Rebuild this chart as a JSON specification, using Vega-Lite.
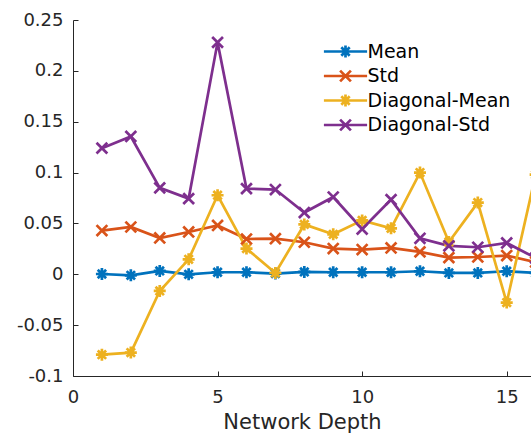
{
  "$schema": "https://vega.github.io/schema/vega-lite/v6.json",
  "autosize": "none",
  "padding": {"left": 73, "top": 20, "right": 0, "bottom": 58},
  "width": 458,
  "height": 356,
  "background": "white",
  "config": {
    "view": {"stroke": null},
    "font": "DejaVu Sans",
    "axis": {
      "grid": false,
      "labelFont": "DejaVu Sans",
      "labelFontSize": 18,
      "labelColor": "#262626",
      "labelFlush": false,
      "domainColor": "#262626",
      "domainWidth": 1,
      "tickColor": "#262626",
      "tickWidth": 1,
      "tickSize": -5,
      "titleFont": "DejaVu Sans",
      "titleFontSize": 21,
      "titleFontWeight": "normal",
      "titleColor": "#262626"
    }
  },
  "data": {
    "values": [
      {"depth": 1, "series": "Mean", "value": 0.0003},
      {"depth": 2, "series": "Mean", "value": -0.001},
      {"depth": 3, "series": "Mean", "value": 0.0033},
      {"depth": 4, "series": "Mean", "value": 0.0},
      {"depth": 5, "series": "Mean", "value": 0.002},
      {"depth": 6, "series": "Mean", "value": 0.002},
      {"depth": 7, "series": "Mean", "value": 0.0007},
      {"depth": 8, "series": "Mean", "value": 0.0023},
      {"depth": 9, "series": "Mean", "value": 0.002},
      {"depth": 10, "series": "Mean", "value": 0.002},
      {"depth": 11, "series": "Mean", "value": 0.002},
      {"depth": 12, "series": "Mean", "value": 0.003},
      {"depth": 13, "series": "Mean", "value": 0.0013},
      {"depth": 14, "series": "Mean", "value": 0.0013},
      {"depth": 15, "series": "Mean", "value": 0.003},
      {"depth": 16, "series": "Mean", "value": 0.0013},
      {"depth": 1, "series": "Std", "value": 0.043},
      {"depth": 2, "series": "Std", "value": 0.0465},
      {"depth": 3, "series": "Std", "value": 0.0357},
      {"depth": 4, "series": "Std", "value": 0.0416},
      {"depth": 5, "series": "Std", "value": 0.048},
      {"depth": 6, "series": "Std", "value": 0.0347},
      {"depth": 7, "series": "Std", "value": 0.035},
      {"depth": 8, "series": "Std", "value": 0.0315},
      {"depth": 9, "series": "Std", "value": 0.0253},
      {"depth": 10, "series": "Std", "value": 0.0243},
      {"depth": 11, "series": "Std", "value": 0.0259},
      {"depth": 12, "series": "Std", "value": 0.022},
      {"depth": 13, "series": "Std", "value": 0.0164},
      {"depth": 14, "series": "Std", "value": 0.017},
      {"depth": 15, "series": "Std", "value": 0.0184},
      {"depth": 16, "series": "Std", "value": 0.012},
      {"depth": 1, "series": "Diagonal-Mean", "value": -0.079},
      {"depth": 2, "series": "Diagonal-Mean", "value": -0.077},
      {"depth": 3, "series": "Diagonal-Mean", "value": -0.0164},
      {"depth": 4, "series": "Diagonal-Mean", "value": 0.0147},
      {"depth": 5, "series": "Diagonal-Mean", "value": 0.0777},
      {"depth": 6, "series": "Diagonal-Mean", "value": 0.0253},
      {"depth": 7, "series": "Diagonal-Mean", "value": 0.0013},
      {"depth": 8, "series": "Diagonal-Mean", "value": 0.049},
      {"depth": 9, "series": "Diagonal-Mean", "value": 0.0393},
      {"depth": 10, "series": "Diagonal-Mean", "value": 0.053},
      {"depth": 11, "series": "Diagonal-Mean", "value": 0.0452},
      {"depth": 12, "series": "Diagonal-Mean", "value": 0.1},
      {"depth": 13, "series": "Diagonal-Mean", "value": 0.0318},
      {"depth": 14, "series": "Diagonal-Mean", "value": 0.0705},
      {"depth": 15, "series": "Diagonal-Mean", "value": -0.0278},
      {"depth": 16, "series": "Diagonal-Mean", "value": 0.098},
      {"depth": 1, "series": "Diagonal-Std", "value": 0.124},
      {"depth": 2, "series": "Diagonal-Std", "value": 0.1355},
      {"depth": 3, "series": "Diagonal-Std", "value": 0.085},
      {"depth": 4, "series": "Diagonal-Std", "value": 0.0744},
      {"depth": 5, "series": "Diagonal-Std", "value": 0.228},
      {"depth": 6, "series": "Diagonal-Std", "value": 0.0842},
      {"depth": 7, "series": "Diagonal-Std", "value": 0.0833},
      {"depth": 8, "series": "Diagonal-Std", "value": 0.0607},
      {"depth": 9, "series": "Diagonal-Std", "value": 0.076},
      {"depth": 10, "series": "Diagonal-Std", "value": 0.0445},
      {"depth": 11, "series": "Diagonal-Std", "value": 0.0734},
      {"depth": 12, "series": "Diagonal-Std", "value": 0.0354},
      {"depth": 13, "series": "Diagonal-Std", "value": 0.0279},
      {"depth": 14, "series": "Diagonal-Std", "value": 0.0266},
      {"depth": 15, "series": "Diagonal-Std", "value": 0.0308},
      {"depth": 16, "series": "Diagonal-Std", "value": 0.016}
    ]
  },
  "encoding": {
    "x": {
      "field": "depth",
      "type": "quantitative",
      "scale": {"domain": [0, 15.84], "nice": false, "zero": false},
      "axis": {"title": "Network Depth", "values": [0, 5, 10, 15], "labelPadding": 17, "titlePadding": 5, "labelExpr": "'' + datum.value"}
    },
    "y": {
      "field": "value",
      "type": "quantitative",
      "scale": {"domain": [-0.1, 0.25], "nice": false, "zero": false},
      "axis": {"title": null, "values": [-0.1, -0.05, 0, 0.05, 0.1, 0.15, 0.2, 0.25], "labelPadding": 15, "labelExpr": "'' + datum.value"}
    }
  },
  "layer": [
    {
      "mark": {"type": "line", "strokeWidth": 2.7, "clip": true},
      "encoding": {
        "color": {
          "field": "series",
          "type": "nominal",
          "scale": {
            "domain": ["Mean", "Std", "Diagonal-Mean", "Diagonal-Std"],
            "range": ["#0072BD", "#D95319", "#EDB120", "#7E2F8E"]
          },
          "legend": {
            "title": null,
            "orient": "none",
            "legendX": 263,
            "legendY": 22,
            "padding": 0,
            "labelFont": "DejaVu Sans",
            "labelFontSize": 19,
            "labelColor": "#000000",
            "labelOffset": 12.5,
            "rowPadding": 1.5,
            "symbolSize": 144,
            "symbolStrokeWidth": 2.7,
            "symbolFillColor": "transparent",
            "symbolOpacity": 1,
            "labelLimit": 300,
            "encode": {
              "symbols": {
                "update": {
                  "shape": {"signal": "(datum.value === 'Mean' || datum.value === 'Diagonal-Mean') ? 'M-3.6,0L3.6,0M-1,0L1,0M0,-1L0,1M-0.7,-0.7L0.7,0.7M-0.7,0.7L0.7,-0.7' : 'M-3.6,0L3.6,0M-0.9,-0.9L0.9,0.9M-0.9,0.9L0.9,-0.9'"}
                }
              }
            }
          }
        }
      }
    },
    {
      "transform": [{"filter": "datum.series === 'Mean' || datum.series === 'Diagonal-Mean'"}],
      "mark": {"type": "point", "filled": false, "strokeWidth": 2.7, "size": 144, "opacity": 1, "clip": true, "shape": "M-1,0L1,0M0,-1L0,1M-0.7,-0.7L0.7,0.7M-0.7,0.7L0.7,-0.7"},
      "encoding": {
        "stroke": {
          "field": "series",
          "type": "nominal",
          "scale": {
            "domain": ["Mean", "Std", "Diagonal-Mean", "Diagonal-Std"],
            "range": ["#0072BD", "#D95319", "#EDB120", "#7E2F8E"]
          },
          "legend": null
        }
      }
    },
    {
      "transform": [{"filter": "datum.series === 'Std' || datum.series === 'Diagonal-Std'"}],
      "mark": {"type": "point", "filled": false, "strokeWidth": 2.7, "size": 144, "opacity": 1, "clip": true, "shape": "M-0.9,-0.9L0.9,0.9M-0.9,0.9L0.9,-0.9"},
      "encoding": {
        "stroke": {
          "field": "series",
          "type": "nominal",
          "scale": {
            "domain": ["Mean", "Std", "Diagonal-Mean", "Diagonal-Std"],
            "range": ["#0072BD", "#D95319", "#EDB120", "#7E2F8E"]
          },
          "legend": null
        }
      }
    }
  ]
}
